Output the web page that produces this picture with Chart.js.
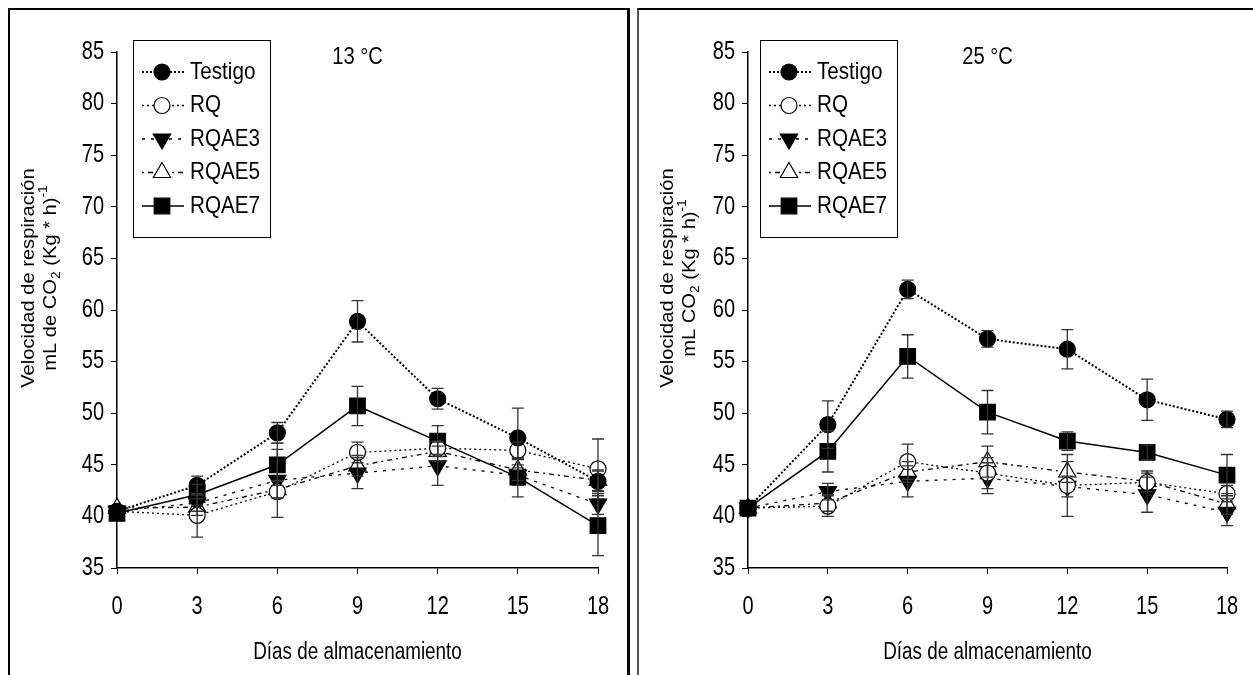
<!DOCTYPE html>
<html>
<head>
<meta charset="utf-8">
<script src="https://cdn.jsdelivr.net/npm/chart.js@4.4.1/dist/chart.umd.min.js"></script>
<style>
body{margin:0;background:#fff;width:1253px;height:675px;overflow:hidden;position:relative;}
.marco{position:absolute;box-sizing:border-box;border:2px solid #000;border-bottom:none;}
#marco1{left:8px;top:8px;width:622px;height:700px;border-right-width:3px;}
#marco2{left:637px;top:8px;width:700px;height:700px;border-left-color:#555;}
canvas{position:absolute;}
#chart13{left:12px;top:12px;}
#chart25{left:642px;top:12px;}
</style>
</head>
<body>
<div class="marco" id="marco1"></div>
<div class="marco" id="marco2"></div>
<canvas id="chart13" width="614" height="663"></canvas>
<canvas id="chart25" width="611" height="663"></canvas>
<script>
// ===========================
// DATOS
// ===========================

const dias = [0, 3, 6, 9, 12, 15, 18];
const ticksX = [0, 3, 6, 9, 12, 15, 18];
const ticksY = [35, 40, 45, 50, 55, 60, 65, 70, 75, 80, 85];
const tratamientos = ["Testigo", "RQ", "RQAE3", "RQAE5", "RQAE7"];

// 13 °C
const testigo13 = [40.5, 43.0, 48.1, 58.9, 51.4, 47.6, 43.4];
const rq13 = [40.5, 40.1, 42.4, 46.2, 46.6, 46.4, 44.6];
const rqae3_13 = [40.5, 41.3, 43.5, 44.2, 44.9, 44.0, 41.2];
const rqae5_13 = [40.8, 40.9, 42.6, 44.9, 46.3, 44.5, 43.5];
const rqae7_13 = [40.3, 42.1, 45.0, 50.7, 47.3, 43.8, 39.1];

const testigo13Err = [0, 0.9, 1.0, 2.0, 1.0, 2.9, 1.0];
const rq13Err = [0, 2.1, 0.6, 1.0, 0.6, 0.8, 2.9];
const rqae3_13Err = [0, 0.8, 3.6, 1.5, 1.9, 1.0, 1.0];
const rqae5_13Err = [0, 0.8, 0.8, 1.0, 1.0, 1.0, 1.0];
const rqae7_13Err = [0, 1.0, 1.5, 1.9, 1.5, 1.9, 2.9];

// 25 °C
const testigo25 = [40.8, 48.9, 62.0, 57.2, 56.2, 51.3, 49.4];
const rq25 = [40.8, 41.0, 45.3, 44.2, 43.0, 43.3, 42.2];
const rqae3_25 = [40.8, 42.4, 43.4, 43.7, 42.9, 42.1, 40.4];
const rqae5_25 = [40.8, 41.3, 44.3, 45.3, 44.3, 43.4, 41.2];
const rqae7_25 = [40.8, 46.3, 55.5, 50.1, 47.3, 46.2, 44.0];

const testigo25Err = [0, 2.3, 0.9, 0.8, 1.9, 2.0, 0.8];
const rq25Err = [0, 1.0, 1.7, 1.5, 3.0, 0.9, 0.8];
const rqae3_25Err = [0, 0.8, 1.5, 1.5, 1.0, 1.7, 1.3];
const rqae5_25Err = [0, 0.8, 1.0, 1.5, 1.0, 1.0, 1.0];
const rqae7_25Err = [0, 2.0, 2.1, 2.1, 0.9, 0.7, 2.0];

// ===========================
// ESTILOS
// ===========================

const FONT = "'Liberation Sans', Arial, sans-serif";

Chart.defaults.font.family = FONT;
Chart.defaults.color = '#000';

// estilo de cada tratamiento (mismo orden que tratamientos)
const estilos = [
    { dash: [2, 2], width: 2, point: 'circle', radius: 8, fill: '#000', rot: 0 },
    { dash: [2, 3], width: 1.3, point: 'circle', radius: 8, fill: '#fff', rot: 0 },
    { dash: [3, 6], width: 1.3, point: 'triangle', radius: 10, fill: '#000', rot: 180 },
    { dash: [2, 4, 5, 4], width: 1.3, point: 'triangle', radius: 10, fill: '#fff', rot: 0 },
    { dash: [], width: 1.5, point: 'rect', radius: 11, fill: '#000', rot: 0 }
];

function buildDatasets(series, errores){

    return series.map((vals, i) => {

        const st = estilos[i];

        return {
            label: tratamientos[i],
            data: vals.map((v, j) => ({ x: dias[j], y: v })),
            errores: errores[i],
            borderColor: '#000',
            borderWidth: st.width,
            borderDash: st.dash,
            pointStyle: st.point,
            pointRadius: st.radius,
            pointRotation: st.rot,
            pointBackgroundColor: st.fill,
            pointBorderColor: '#000',
            pointBorderWidth: 1.2,
            tension: 0,
            fill: false,
            clip: false
        };
    });
}

// ===========================
// PLUGIN BARRAS DE ERROR
// ===========================

const errorBarPlugin = {
    id: 'errorBars',
    afterDatasetsDraw(chart){

        const ctx = chart.ctx;
        const xs = chart.scales.x;
        const ys = chart.scales.y;

        ctx.save();
        ctx.strokeStyle = '#333';
        ctx.lineWidth = 1.3;
        ctx.setLineDash([]);

        chart.data.datasets.forEach(ds => {

            if(!ds.errores) return;

            ds.data.forEach((p, i) => {

                const e = ds.errores[i];
                if(!e) return;

                const px = xs.getPixelForValue(p.x);
                const top = ys.getPixelForValue(p.y + e);
                const bot = ys.getPixelForValue(p.y - e);

                ctx.beginPath();
                ctx.moveTo(px, top);
                ctx.lineTo(px, bot);
                ctx.moveTo(px - 6, top);
                ctx.lineTo(px + 6, top);
                ctx.moveTo(px - 6, bot);
                ctx.lineTo(px + 6, bot);
                ctx.stroke();
            });
        });

        ctx.restore();
    }
};

// ===========================
// TEXTOS (fuente estrecha)
// ===========================

// texto horizontal comprimido (como Arial Narrow)
function drawNarrow(ctx, text, x, y, size, sx, align){

    ctx.save();
    ctx.translate(x, y);
    ctx.scale(sx, 1);
    ctx.font = size + 'px ' + FONT;
    ctx.fillStyle = '#000';
    ctx.textAlign = align;
    ctx.textBaseline = 'middle';
    ctx.fillText(text, 0, 0);
    ctx.restore();
}

// titulo vertical con subindice / superindice
function drawRotated(ctx, parts, x, y){

    // parts: [texto, tipo] ; 0 normal, -1 subindice, 1 superindice
    ctx.save();
    ctx.translate(x, y);
    ctx.rotate(-Math.PI / 2);
    ctx.scale(1.06, 1);
    ctx.fillStyle = '#000';
    ctx.textBaseline = 'alphabetic';
    ctx.textAlign = 'left';

    let total = 0;
    parts.forEach(p => {
        ctx.font = (p[1] === 0 ? 19 : 13) + 'px ' + FONT;
        total += ctx.measureText(p[0]).width;
    });

    let cx = -total / 2;
    parts.forEach(p => {
        ctx.font = (p[1] === 0 ? 19 : 13) + 'px ' + FONT;
        const dy = p[1] === -1 ? 4 : (p[1] === 1 ? -9 : 0);
        ctx.fillText(p[0], cx, dy);
        cx += ctx.measureText(p[0]).width;
    });

    ctx.restore();
}

const panelPlugin = {
    id: 'panelTexts',
    afterDraw(chart, args, opts){

        const ctx = chart.ctx;
        const area = chart.chartArea;
        const xs = chart.scales.x;
        const ys = chart.scales.y;

        ctx.save();

        // etiquetas de los ejes
        xs.ticks.forEach(t => {
            drawNarrow(ctx, String(t.value), xs.getPixelForValue(t.value), area.bottom + 39, 25, 0.8, 'center');
        });
        ys.ticks.forEach(t => {
            drawNarrow(ctx, String(t.value), area.left - 13, ys.getPixelForValue(t.value), 25, 0.8, 'right');
        });

        // titulo eje x
        drawNarrow(ctx, 'Días de almacenamiento', (area.left + area.right) / 2, area.bottom + 85, 23, 0.82, 'center');

        // titulo temperatura
        drawNarrow(ctx, opts.titulo, (area.left + area.right) / 2, area.top + 5, 24, 0.84, 'center');

        // titulo eje y
        drawRotated(ctx, opts.ejeY1, opts.ejeYx1, opts.ejeYc);
        drawRotated(ctx, opts.ejeY2, opts.ejeYx2, opts.ejeYc);

        // leyenda
        const bx = area.left + opts.legX;
        const by = area.top - 12;

        ctx.fillStyle = '#fff';
        ctx.fillRect(bx, by, 137, 197);
        ctx.strokeStyle = '#000';
        ctx.lineWidth = 1;
        ctx.strokeRect(bx + 0.5, by + 0.5, 137, 197);

        chart.data.datasets.forEach((ds, i) => {

            const y = by + 32 + i * 33.5;

            ctx.strokeStyle = '#000';
            ctx.lineWidth = ds.borderWidth;
            ctx.setLineDash(ds.borderDash);
            ctx.beginPath();
            ctx.moveTo(bx + 9, y);
            ctx.lineTo(bx + 51, y);
            ctx.stroke();
            ctx.setLineDash([]);

            ctx.fillStyle = ds.pointBackgroundColor;
            ctx.lineWidth = ds.pointBorderWidth;
            Chart.helpers.drawPoint(ctx, {
                pointStyle: ds.pointStyle,
                rotation: ds.pointRotation,
                radius: ds.pointRadius,
                borderWidth: ds.pointBorderWidth
            }, bx + 29, y);

            drawNarrow(ctx, ds.label, bx + 57, y, 24, 0.86, 'left');
        });

        ctx.restore();
    }
};

// ===========================
// CREAR GRAFICO
// ===========================

function crearGrafico(id, datasets, anchoY, padRight, textos){

    const ctx = document.getElementById(id).getContext('2d');

    return new Chart(ctx, {
        type: 'line',
        data: { datasets: datasets },
        options: {
            responsive: false,
            animation: false,
            events: [],
            layout: { padding: { left: 0, right: padRight, top: 40, bottom: 0 } },
            plugins: {
                legend: { display: false },
                tooltip: { enabled: false },
                panelTexts: textos
            },
            scales: {
                x: {
                    type: 'linear',
                    min: 0,
                    max: 18,
                    afterBuildTicks: s => { s.ticks = ticksX.map(v => ({ value: v })); },
                    afterFit: s => { s.height = 107; },
                    ticks: { display: false },
                    grid: { drawOnChartArea: false, tickLength: 6, color: '#000' },
                    border: { color: '#000', width: 1.5 }
                },
                y: {
                    type: 'linear',
                    min: 35,
                    max: 85,
                    afterBuildTicks: s => { s.ticks = ticksY.map(v => ({ value: v })); },
                    afterFit: s => { s.width = anchoY; },
                    ticks: { display: false },
                    grid: { drawOnChartArea: false, tickLength: 6, color: '#000' },
                    border: { color: '#000', width: 1.5 }
                }
            }
        },
        plugins: [errorBarPlugin, panelPlugin]
    });
}

// ===========================
// START
// ===========================

crearGrafico(
    'chart13',
    buildDatasets(
        [testigo13, rq13, rqae3_13, rqae5_13, rqae7_13],
        [testigo13Err, rq13Err, rqae3_13Err, rqae5_13Err, rqae7_13Err]
    ),
    105,
    28,
    {
        titulo: '13 °C',
        legX: 16,
        ejeY1: [['Velocidad de respiración', 0]],
        ejeY2: [['mL de CO', 0], ['2', -1], [' (Kg * h)', 0], ['-1', 1]],
        ejeYx1: 22,
        ejeYx2: 44,
        ejeYc: 266
    }
);

crearGrafico(
    'chart25',
    buildDatasets(
        [testigo25, rq25, rqae3_25, rqae5_25, rqae7_25],
        [testigo25Err, rq25Err, rqae3_25Err, rqae5_25Err, rqae7_25Err]
    ),
    106,
    26,
    {
        titulo: '25 °C',
        legX: 12,
        ejeY1: [['Velocidad de respiración', 0]],
        ejeY2: [['mL CO', 0], ['2', -1], [' (Kg * h)', 0], ['-1', 1]],
        ejeYx1: 31,
        ejeYx2: 53,
        ejeYc: 266
    }
);
</script>
</body>
</html>
